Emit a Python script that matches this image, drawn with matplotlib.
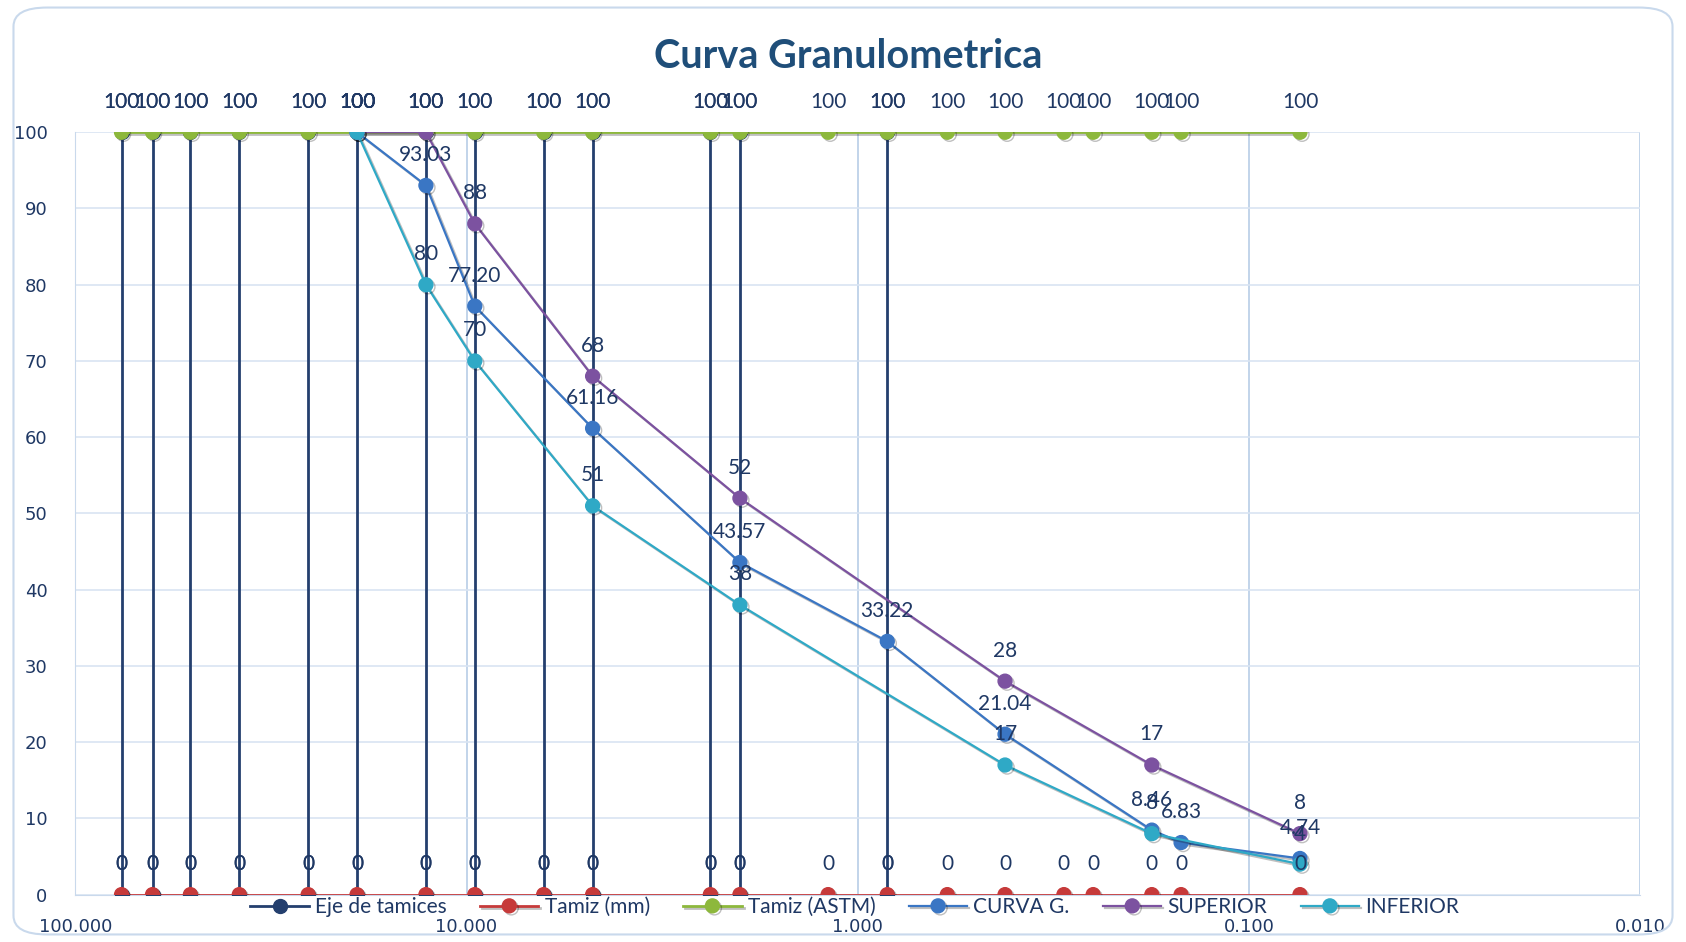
import matplotlib.pyplot as plt
import matplotlib.patheffects as pe
from matplotlib.patches import FancyBboxPatch
from matplotlib.ticker import FixedLocator, FuncFormatter, NullLocator

# tamices ASTM (mm)
sizes = [76.2, 63.5, 50.8, 38.1, 25.4, 19.05, 12.7, 9.525, 6.35, 4.76, 2.38, 2.0, 1.19,
         0.84, 0.59, 0.42, 0.297, 0.25, 0.177, 0.149, 0.074]
eje_sizes = [76.2, 63.5, 50.8, 38.1, 25.4, 19.05, 12.7, 9.525, 6.35, 4.76, 2.38, 2.0, 0.84]

curva_x = [19.05, 12.7, 9.525, 4.76, 2.0, 0.84, 0.42, 0.177, 0.149, 0.074]
curva_y = [100, 93.03, 77.20, 61.16, 43.57, 33.22, 21.04, 8.46, 6.83, 4.74]

lim_x = [19.05, 12.7, 9.525, 4.76, 2.0, 0.42, 0.177, 0.074]
sup_y = [100, 100, 88, 68, 52, 28, 17, 8]
inf_y = [100, 80, 70, 51, 38, 17, 8, 4]

navy = '#1F3864'
c_eje = '#243F6E'
c_mm = '#C63A3A'
c_astm = '#8DB83C'
c_curva = '#3A76C4'
c_sup = '#7C52A0'
c_inf = '#2FA9C6'

plt.rcParams['font.family'] = ['Lato', 'DejaVu Sans']

fig = plt.figure(figsize=(16.86, 9.42), dpi=100)
fig.patch.set_facecolor('white')
border = FancyBboxPatch((0.008, 0.008), 0.984, 0.984, boxstyle='round,pad=0,rounding_size=0.02',
                        transform=fig.transFigure, fill=False, edgecolor='#C9D9EC', lw=1.5)
fig.patches.append(border)

ax = fig.add_axes([0.0447, 0.0503, 0.928, 0.8093])
ax.set_xscale('log')
ax.set_xlim(100, 0.01)
ax.set_ylim(0, 100)

shadow = [pe.SimpleLineShadow(offset=(1.5, -1.5), alpha=0.25), pe.Normal()]
mk = dict(marker='o', markersize=10, path_effects=shadow)


def fmt2(v):
    return '100' if v == 100 else '{:.2f}'.format(v)


def labels(xs, ys, fmt=lambda v: '{:.0f}'.format(v)):
    for x, y in zip(xs, ys):
        ax.annotate(fmt(y), (x, y), xytext=(0, 22), textcoords='offset points',
                    ha='center', va='center', fontsize=15, color=navy, zorder=10)


# Eje de tamices
for i, s in enumerate(eje_sizes):
    ax.plot([s, s], [0, 100], color=c_eje, lw=2, marker='o', markersize=10,
            markerfacecolor=c_eje, markeredgecolor=c_eje,
            label='Eje de tamices' if i == 0 else None, zorder=3)
labels(eje_sizes, [100] * len(eje_sizes))
labels(eje_sizes, [0] * len(eje_sizes))

ax.plot(sizes, [0] * len(sizes), color=c_mm, lw=2, markerfacecolor=c_mm,
        markeredgecolor=c_mm, label='Tamiz (mm)', zorder=4, **mk)
labels(sizes, [0] * len(sizes))

ax.plot(sizes, [100] * len(sizes), color=c_astm, lw=2, markerfacecolor=c_astm,
        markeredgecolor=c_astm, label='Tamiz (ASTM)', zorder=4, **mk)
labels(sizes, [100] * len(sizes))

ax.plot(curva_x, curva_y, color=c_curva, lw=1.6, markerfacecolor=c_curva,
        markeredgecolor=c_curva, label='CURVA G.', zorder=5, **mk)
labels(curva_x, curva_y, fmt2)

ax.plot(lim_x, sup_y, color=c_sup, lw=1.6, markerfacecolor=c_sup,
        markeredgecolor=c_sup, label='SUPERIOR', zorder=6, **mk)
labels(lim_x, sup_y)

ax.plot(lim_x, inf_y, color=c_inf, lw=1.6, markerfacecolor=c_inf,
        markeredgecolor=c_inf, label='INFERIOR', zorder=7, **mk)
labels(lim_x, inf_y)

# ejes
ax.xaxis.set_major_locator(FixedLocator([100, 10, 1, 0.1, 0.01]))
ax.xaxis.set_minor_locator(NullLocator())
ax.xaxis.set_major_formatter(FuncFormatter(lambda v, p: '{:.3f}'.format(v)))
ax.set_yticks(range(0, 101, 10))
ax.tick_params(axis='both', length=0, labelsize=13, labelcolor=navy, labelfontfamily='DejaVu Sans')
ax.tick_params(axis='x', pad=17)
ax.tick_params(axis='y', pad=20)
ax.grid(True, axis='y', color='#D9E4F2', lw=1.2)
ax.grid(True, axis='x', color='#B8CDE6', lw=1.2)
ax.set_axisbelow(True)
for side in ['top', 'right']:
    ax.spines[side].set_visible(False)
ax.spines['left'].set_color('#C9D9EC')
ax.spines['bottom'].set_color('#C9D9EC')

fig.text(0.503, 0.94, 'Curva Granulometrica', ha='center', va='center',
         fontsize=28.5, fontweight='bold', color='#1F4E79')

fig.legend(loc='center', bbox_to_anchor=(0.507, 0.037), ncol=6, frameon=False,
           fontsize=15, labelcolor=navy, handlelength=2.8, handletextpad=0.3,
           columnspacing=1.6, markerscale=1.0)

fig.savefig('out.png', dpi=100)
